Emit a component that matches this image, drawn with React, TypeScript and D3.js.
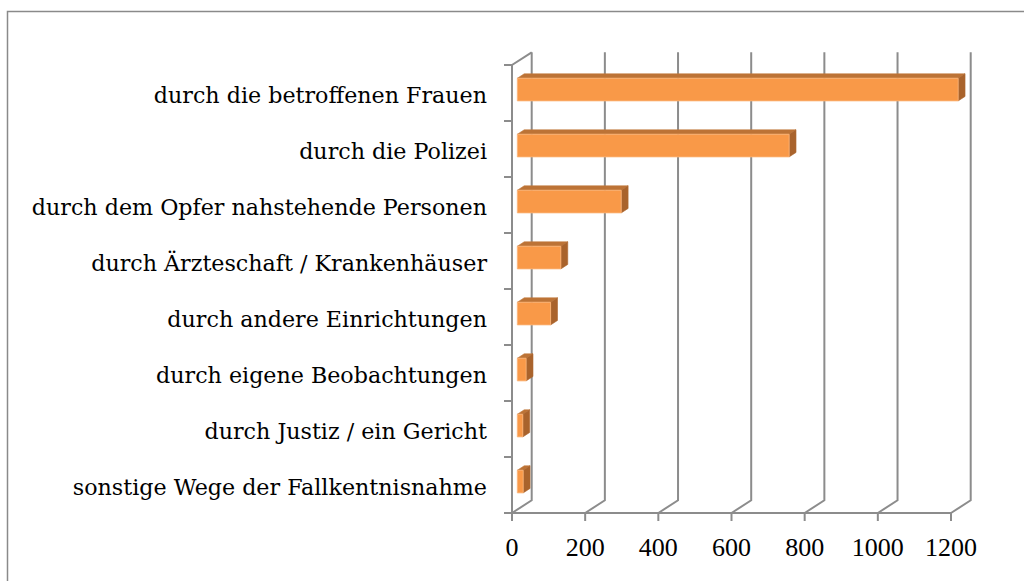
import React from "react";
import * as d3 from "d3";

const categories = [
  "durch die betroffenen Frauen",
  "durch die Polizei",
  "durch dem Opfer nahstehende Personen",
  "durch Ärzteschaft / Krankenhäuser",
  "durch andere Einrichtungen",
  "durch eigene Beobachtungen",
  "durch Justiz / ein Gericht",
  "sonstige Wege der Fallkentnisnahme",
];
const values = [1205, 743, 284, 119, 91, 24, 15, 16];
const xTicks = [0, 200, 400, 600, 800, 1000, 1200];

const W = 1024;
const H = 581;
const X0 = 512;
const TOP = 65;
const FLOOR = 513;
const DX = 19.7;
const DY = -12.7;
const D0 = 0.27;
const D1 = 0.62;

export default function App() {
  const xs = d3.scaleLinear().domain([0, 1200]).range([0, 439]);
  const ys = d3.scaleBand<string>().domain(categories).range([TOP, FLOOR]).padding(0);
  const bw = ys.bandwidth();
  const barH = bw * 0.405;
  const P = (v: number, y: number, d: number): [number, number] => [X0 + xs(v) + d * DX, y + d * DY];
  const poly = (pts: [number, number][]) => pts.map((p) => p.join(",")).join(" ");
  const gridColor = "#8C8C8C";

  const catTicks = [...categories.map((c) => ys(c) as number), FLOOR];

  return (
    <svg width={W} height={H} style={{ position: "absolute", left: 0, top: 0, background: "#fff" }}>
      <rect x={7.5} y={11.5} width={1100} height={700} fill="#fff" stroke="#8A8A8A" strokeWidth={1.5} />
      {/* back wall gridlines and floor diagonals */}
      {xTicks.map((t) => {
        const a = P(t, TOP, 1);
        const b = P(t, FLOOR, 1);
        const c = P(t, FLOOR, 0);
        return (
          <polyline
            key={"g" + t}
            points={poly([a, b, c])}
            fill="none"
            stroke={gridColor}
            strokeWidth={2}
          />
        );
      })}
      {/* left wall */}
      <polyline
        points={poly([P(0, TOP, 1), P(0, TOP, 0), P(0, FLOOR, 0), P(1200, FLOOR, 0)])}
        fill="none"
        stroke={gridColor}
        strokeWidth={2}
      />
      {catTicks.map((y, i) => (
        <line key={"ct" + i} x1={X0 - 8} x2={X0} y1={y} y2={y} stroke={gridColor} strokeWidth={2} />
      ))}
      {xTicks.map((t) => (
        <line key={"xt" + t} x1={X0 + xs(t)} x2={X0 + xs(t)} y1={FLOOR} y2={FLOOR + 8} stroke={gridColor} strokeWidth={2} />
      ))}
      {/* bars */}
      {categories.map((c, i) => {
        const v = values[i];
        const yc = (ys(c) as number) + bw / 2;
        const yT = yc - barH / 2;
        const yB = yc + barH / 2;
        const front = [P(0, yT, D0), P(v, yT, D0), P(v, yB, D0), P(0, yB, D0)];
        const top = [P(0, yT, D0), P(v, yT, D0), P(v, yT, D1), P(0, yT, D1)];
        const side = [P(v, yT, D0), P(v, yT, D1), P(v, yB, D1), P(v, yB, D0)];
        return (
          <g key={"b" + i}>
            <polygon points={poly(top)} fill="#BC7336" stroke="#C27A3E" strokeWidth={0.6} />
            <polygon points={poly(side)} fill="#A9632C" stroke="#AE6830" strokeWidth={0.6} />
            <polygon points={poly(front)} fill="#F99948" stroke="#FBB57A" strokeWidth={0.8} />
          </g>
        );
      })}
      {/* category labels */}
      {categories.map((c) => (
        <text
          key={"l" + c}
          x={487}
          y={(ys(c) as number) + bw / 2 + 10}
          textAnchor="end"
          fontFamily="'DejaVu Serif', serif"
          fontSize={22.2}
          fill="#000"
        >
          {c}
        </text>
      ))}
      {/* value tick labels */}
      {xTicks.map((t) => (
        <text
          key={"xl" + t}
          x={X0 + xs(t)}
          y={556}
          textAnchor="middle"
          fontFamily="'Liberation Serif', serif"
          fontSize={26}
          fill="#000"
        >
          {t}
        </text>
      ))}
    </svg>
  );
}
